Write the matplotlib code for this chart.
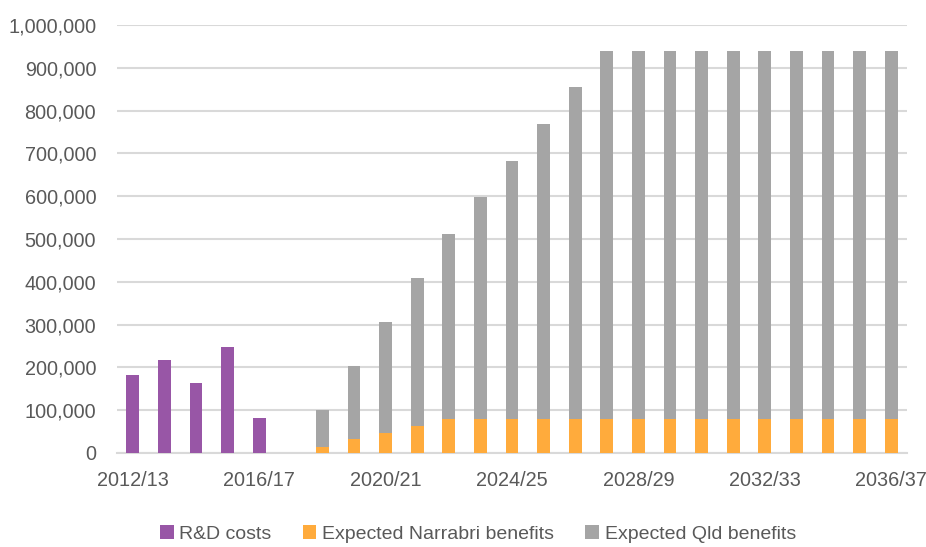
import matplotlib
matplotlib.use("Agg")
import matplotlib.pyplot as plt
import numpy as np
from matplotlib.ticker import FuncFormatter

years = [f"{y}/{(y+1)%100:02d}" for y in range(2012, 2037)]
rd_costs = [182000, 217000, 163000, 248000, 82000] + [0]*20
narrabri = [0]*6 + [15000, 32000, 47000, 64000] + [80000]*15
qld = [0]*6 + [86000, 171000, 260000, 346000, 431000, 517000, 602000,
               688000, 774000] + [860000]*10
tick_labels = ["2012/13", "2016/17", "2020/21", "2024/25", "2028/29", "2032/33", "2036/37"]

plt.rcParams['font.family'] = ['Liberation Sans', 'DejaVu Sans']
fig = plt.figure(figsize=(9.26, 5.47), dpi=100)
ax = fig.add_axes([117/926, 1-453/547, 790/926, 428/547])

x = np.arange(len(years))
w = 0.40
c_rd, c_n, c_q = "#9856A6", "#FFAB3C", "#A5A5A5"
ax.bar(x, rd_costs, w, color=c_rd, label="R&D costs", zorder=3)
ax.bar(x, narrabri, w, color=c_n, label="Expected Narrabri benefits", zorder=3)
ax.bar(x, qld, w, bottom=narrabri, color=c_q, label="Expected Qld benefits", zorder=3)

ax.set_xlim(-0.5, len(years)-0.5)
ax.set_ylim(0, 1000000)
ax.set_yticks(np.arange(0, 1000001, 100000))
ax.yaxis.set_major_formatter(FuncFormatter(lambda v, p: f"{int(v):,}"))
ax.set_xticks([years.index(t) for t in tick_labels])
ax.set_xticklabels(tick_labels)
ax.grid(axis='y', color="#D9D9D9", lw=1.5, zorder=0)
for s in ['top', 'right', 'left']:
    ax.spines[s].set_visible(False)
ax.spines['bottom'].set_color("#D9D9D9")
ax.spines['bottom'].set_linewidth(1.5)
ax.tick_params(axis='both', length=0, labelsize=14.3, labelcolor="#595959")
ax.tick_params(axis='y', pad=15)
ax.tick_params(axis='x', pad=13)

fig.legend(loc='center', bbox_to_anchor=(478/926, 1-534/547), ncol=3, frameon=False,
           fontsize=14, labelcolor="#595959", handlelength=0.7, handleheight=0.7,
           handletextpad=0.3, columnspacing=1.6)
fig.savefig("out.png", dpi=100)
